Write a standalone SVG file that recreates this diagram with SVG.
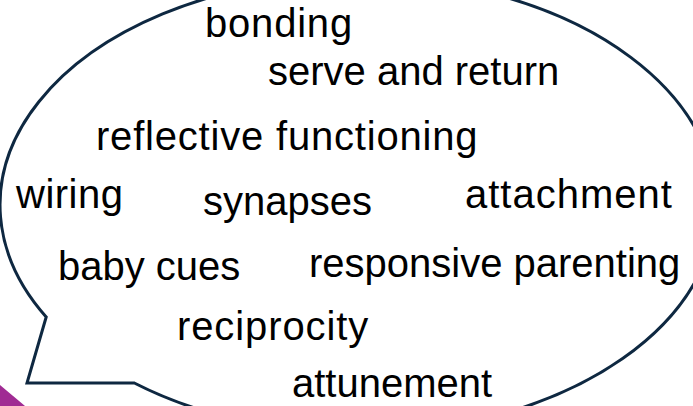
<svg xmlns="http://www.w3.org/2000/svg" width="693" height="406" viewBox="0 0 693 406">
  <style>
    .bubble { fill: #FFFFFF; stroke: #0E2841; stroke-width: 3; stroke-linejoin: miter; }
    .word { font-family: "Liberation Sans", Arial, sans-serif; font-size: 40px; fill: #000000; }
  </style>
  <rect width="693" height="406" fill="#FFFFFF"/>
  <g id="corner">
    <polygon points="0,385 25,406 0,406" fill="#A02B93"/>
  </g>
  <g id="bubble">
    <path class="bubble" d="M 46.2,317 L 27,383 L 134.3,383 A 358 228 0 1 0 46.2,317 Z"/>
  </g>
  <g id="words">
    <g id="w-bonding"><text class="word" x="205" y="37" letter-spacing="0.8">bonding</text></g>
    <g id="w-serve"><text class="word" x="268" y="85">serve and return</text></g>
    <g id="w-reflective"><text class="word" x="96" y="150" letter-spacing="0.8">reflective functioning</text></g>
    <g id="w-wiring"><text class="word" x="16" y="208" letter-spacing="0.5">wiring</text></g>
    <g id="w-synapses"><text class="word" x="203" y="215">synapses</text></g>
    <g id="w-attachment"><text class="word" x="465" y="208" letter-spacing="1">attachment</text></g>
    <g id="w-babycues"><text class="word" x="58" y="280">baby cues</text></g>
    <g id="w-responsive"><text class="word" x="309" y="277">responsive parenting</text></g>
    <g id="w-reciprocity"><text class="word" x="177" y="340" letter-spacing="0.9">reciprocity</text></g>
    <g id="w-attunement"><text class="word" x="292" y="397">attunement</text></g>
  </g>
</svg>
